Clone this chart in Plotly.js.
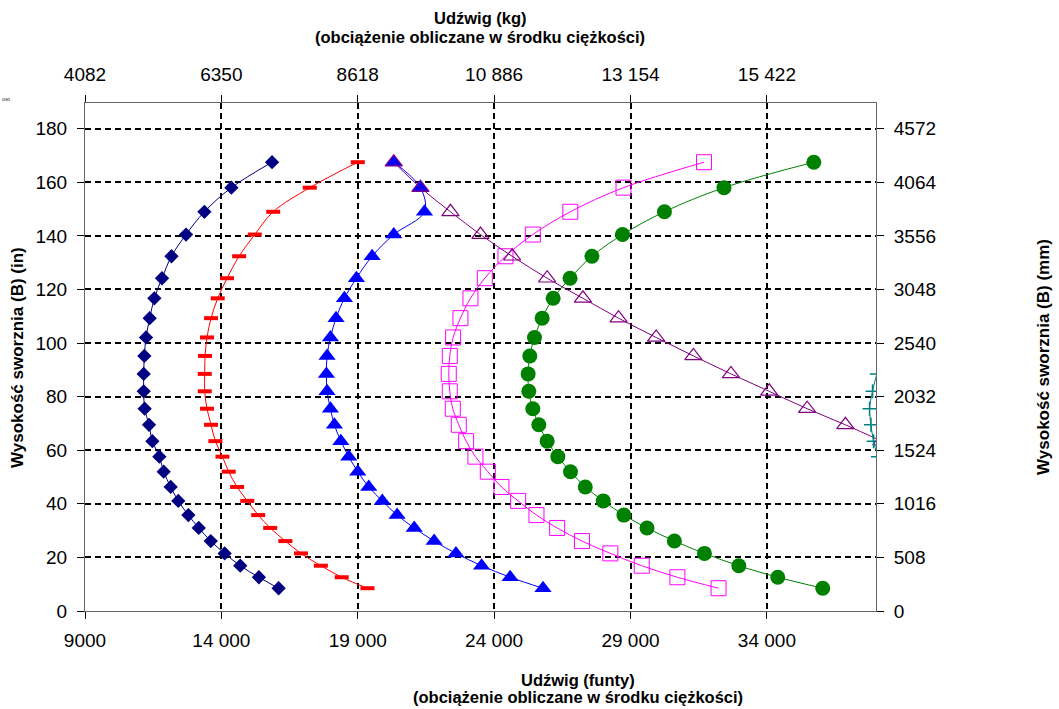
<!DOCTYPE html>
<html>
<head>
<meta charset="utf-8">
<script src="https://cdn.plot.ly/plotly-3.0.1.min.js"></script>
<style>
  html, body { margin: 0; padding: 0; background: #fff; }
  #chart { width: 1059px; height: 709px; }
</style>
</head>
<body>
<div id="chart"></div>
<script>
// Heights (in) shared by the curves
const heightsIn = [167.5, 158, 149, 140.5, 132.4, 124.2, 116.7, 109.3, 102.1, 95.2, 88.5, 82, 75.5, 69.5, 63.4, 57.6, 52, 46.3, 41.1, 35.8, 31, 26.1, 21.5, 16.9, 12.6, 8.5];

// Capacities (lb) per series
const navyLb = [15858, 14367, 13377, 12704, 12170, 11824, 11543, 11372, 11237, 11176, 11152, 11152, 11188, 11347, 11470, 11726, 11885, 12142, 12420, 12790, 13170, 13610, 14120, 14692, 15375, 16099];
const redLb = [19000, 17240, 15900, 15223, 14650, 14208, 13866, 13621, 13474, 13401, 13389, 13389, 13474, 13621, 13780, 14040, 14269, 14575, 14950, 15350, 15790, 16345, 16920, 17647, 18411, 19357];
const blueLb = [20320, 21298, 21445, 20320, 19526, 18951, 18511, 18205, 17998, 17875, 17851, 17875, 17998, 18144, 18380, 18670, 19000, 19403, 19900, 20443, 21070, 21800, 22600, 23540, 24586, 25792];
const magentaLb = [31695, 28744, 26793, 25418, 24416, 23658, 23132, 22765, 22496, 22374, 22337, 22374, 22484, 22704, 22973, 23315, 23768, 24269, 24880, 25552, 26310, 27220, 28260, 29412, 30719, 32228];
const greenLb = [35720, 32427, 30244, 28707, 27585, 26784, 26164, 25760, 25479, 25308, 25247, 25271, 25418, 25638, 25944, 26335, 26800, 27342, 28000, 28756, 29605, 30608, 31710, 32971, 34399, 36048];
const purpleIn = [167.5, 158, 149, 140.5, 132.4, 124.2, 116.7, 109.3, 102.1, 95.2, 88.5, 82, 75.5, 69.5, 63.4];
const purpleLb = [20320, 21298, 22399, 23499, 24660, 25944, 27256, 28561, 29939, 31305, 32683, 34085, 35476, 36878, 38200];
const tealIn = [88.5, 82, 75.5, 69.5, 63.4, 57.6];
const tealLb = [38030, 37873, 37763, 37815, 37910, 38070];

// Axis ticks
const lbTicks = [9000, 14000, 19000, 24000, 29000, 34000];
const lbTickText = ["9000", "14 000", "19 000", "24 000", "29 000", "34 000"];
const kgTickText = ["4082", "6350", "8618", "10 886", "13 154", "15 422"];
const inTicks = [0, 20, 40, 60, 80, 100, 120, 140, 160, 180];
const mmTickText = ["0", "508", "1016", "1524", "2032", "2540", "3048", "3556", "4064", "4572"];

const xRange = [9000, 38000];
const yRange = [0, 189.6];

const FONT = "Liberation Sans, Arial, sans-serif";

function series(x, y, color, marker) {
  return {
    type: 'scatter', mode: 'lines+markers', x: x, y: y,
    line: {color: color, width: 1, shape: 'spline', smoothing: 1},
    marker: marker, showlegend: false, hoverinfo: 'skip'
  };
}

const traces = [
  series(navyLb, heightsIn, '#000080', {symbol: 'diamond', size: 11, color: '#000080'}),
  series(redLb, heightsIn, '#FF0000', {symbol: 'line-ew', size: 10, color: '#FF0000', line: {color: '#FF0000', width: 4}}),
  series(blueLb, heightsIn, '#0000FF', {symbol: 'triangle-up', size: 15, color: '#0000FF'}),
  series(magentaLb, heightsIn, '#FF00FF', {symbol: 'square-open', size: 15, color: '#FF00FF', line: {color: '#FF00FF', width: 1}}),
  series(greenLb, heightsIn, '#008000', {symbol: 'circle', size: 15, color: '#008000'}),
  series(purpleLb, purpleIn, '#800080', {symbol: 'triangle-up-open', size: 15, color: '#800080', line: {color: '#800080', width: 1.2}}),
  series(tealLb, tealIn, '#008080', {symbol: 'cross-thin', size: 10, color: '#008080', line: {color: '#008080', width: 1.5}}),
  // invisible anchor trace for secondary axes
  {type: 'scatter', mode: 'markers', x: [xRange[0]], y: [yRange[0]], xaxis: 'x2', yaxis: 'y2',
   marker: {opacity: 0}, showlegend: false, hoverinfo: 'skip'}
];

const tickFont = {family: FONT, size: 19, color: '#000'};
const gridCommon = {showgrid: true, gridcolor: '#000', gridwidth: 2, griddash: '6px,4px'};

function title(text, x, y, size) {
  return {text: '<b>' + text + '</b>', xref: 'paper', yref: 'paper', x: x, y: y,
          xanchor: 'center', yanchor: 'middle', showarrow: false,
          font: {family: FONT, size: size, color: '#000'}};
}

// paper-y helper from pixel y (plot top 103, bottom 611)
const py = p => (611 - p) / 508;

const layout = {
  width: 1059, height: 709,
  paper_bgcolor: '#fff', plot_bgcolor: '#fff',
  margin: {l: 85, r: 183, t: 103, b: 98, autoexpand: false},
  showlegend: false,
  font: {family: FONT, color: '#000'},
  xaxis: Object.assign({
    range: xRange, tickmode: 'array', tickvals: lbTicks, ticktext: lbTickText,
    showline: true, linecolor: '#666', linewidth: 1, zeroline: false,
    ticks: 'outside', ticklen: 7, tickcolor: '#000', tickwidth: 1,
    tickfont: tickFont, ticklabelstandoff: 5
  }, gridCommon),
  yaxis: Object.assign({
    range: yRange, tickmode: 'array', tickvals: inTicks,
    showline: true, linecolor: '#666', linewidth: 1, zeroline: false,
    ticks: 'outside', ticklen: 7, tickcolor: '#000', tickwidth: 1,
    tickfont: tickFont, ticklabelstandoff: 6
  }, gridCommon),
  xaxis2: {
    overlaying: 'x', side: 'top', anchor: 'y', range: xRange,
    tickmode: 'array', tickvals: lbTicks, ticktext: kgTickText,
    showgrid: false, zeroline: false, showline: true, linecolor: '#666', linewidth: 1,
    ticks: 'outside', ticklen: 7, tickcolor: '#000', tickfont: tickFont, ticklabelstandoff: 6
  },
  yaxis2: {
    overlaying: 'y', side: 'right', anchor: 'x', range: yRange,
    tickmode: 'array', tickvals: inTicks, ticktext: mmTickText,
    showgrid: false, zeroline: false, showline: true, linecolor: '#666', linewidth: 1,
    ticks: 'outside', ticklen: 7, tickcolor: '#000', tickfont: tickFont, ticklabelstandoff: 6
  },
  annotations: [
    title('Udźwig (kg)', 0.4994, py(18), 16.5),
    title('(obciążenie obliczane w środku ciężkości)', 0.4994, py(37), 16.5),
    title('Udźwig (funty)', 0.623, py(680), 16.5),
    title('(obciążenie obliczane w środku ciężkości)', 0.623, py(697), 16.5),
    Object.assign(title('Wysokość sworznia (B) (in)', -0.086, 0.5, 17), {textangle: -90}),
    Object.assign(title('Wysokość sworznia (B) (mm)', 1.211, 0.5, 17), {textangle: -90}),
    {text: 'ost', xref: 'paper', yref: 'paper', x: -0.107, y: py(99), xanchor: 'left', yanchor: 'middle',
     showarrow: false, font: {family: FONT, size: 6, color: '#333'}}
  ]
};

Plotly.newPlot('chart', traces, layout, {staticPlot: true, displayModeBar: false});
</script>
</body>
</html>
